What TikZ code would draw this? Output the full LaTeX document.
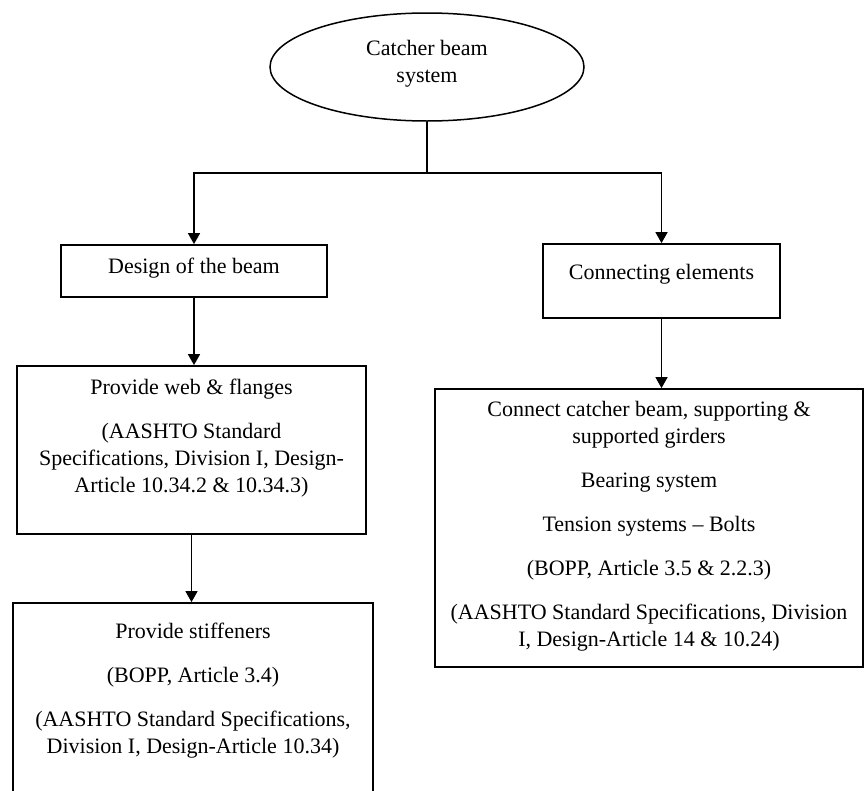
\documentclass[tikz,border=0pt]{standalone}
\usepackage{fontspec}
\setmainfont{Liberation Serif}
\usetikzlibrary{shapes.geometric,arrows.meta}

\begin{document}
\begin{tikzpicture}[x=1pt,y=-1pt,
        box/.style={draw=black,line width=1.8pt,rectangle,inner sep=0pt},
        oval/.style={draw=black,line width=1.5pt,ellipse,inner sep=0pt},
        lbl/.style={align=center,inner sep=0pt,font=\fontsize{22}{27}\selectfont},
        arr/.style={line width=1.6pt,-{Triangle[length=11pt,width=12pt]}}]
        \useasboundingbox (0,0) rectangle (866,790);

        \begin{scope}
            \node[oval, minimum width=314, minimum height=108] (top) at (427,67) {};
            \node[box, minimum width=266, minimum height=52] (design) at (194,271) {};
            \node[box, minimum width=237, minimum height=74] (conn) at (661.5,281) {};
            \node[box, minimum width=349, minimum height=168] (web) at (191.5,450) {};
            \node[box, minimum width=360, minimum height=230] (stiff) at (193,718) {};
            \node[box, minimum width=428, minimum height=278] (bear) at (649,528) {};
        \end{scope}

        \begin{scope}[every node/.style={lbl}]
            \node (toptxt) at (427,64) {Catcher beam\\system};
            \node (designtxt) at (194,268) {Design of the beam};
            \node (conntxt) at (661.5,274) {Connecting elements};
            \node (webtxt) at (191.5,438) {Provide web \& flanges\\[17pt]
                (AASHTO Standard\\Specifications, Division I, Design-\\Article 10.34.2 \& 10.34.3)};
            \node (stifftxt) at (193,691) {Provide stiffeners\\[17pt]
                (BOPP, Article 3.4)\\[17pt]
                (AASHTO Standard Specifications,\\Division I, Design-Article 10.34)};
            \node (beartxt) at (649,526) {Connect catcher beam, supporting \&\\supported girders\\[17pt]
                Bearing system\\[17pt]
                Tension systems -- Bolts\\[17pt]
                (BOPP, Article 3.5 \& 2.2.3)\\[17pt]
                (AASHTO Standard Specifications, Division\\I, Design-Article 14 \& 10.24)};
        \end{scope}

        % connectors
        \draw[line width=1.6pt] (top.south) -- (427,173) coordinate (split);
        \draw[arr] (split) -| (design.north);
        \draw[arr] (split) -| (conn.north);
        \draw[arr] (design.south) -- (design.south |- web.north);
        \draw[arr] (web.south) -- (web.south |- stiff.north);
        \draw[arr] (conn.south) -- (conn.south |- bear.north);
    \end{tikzpicture}
\end{document}
